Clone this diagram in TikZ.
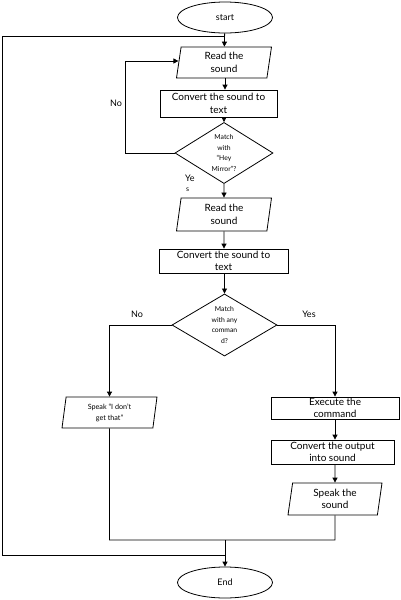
\documentclass[tikz,border=0pt]{standalone}
\usepackage{fontspec}
\setmainfont{Lato}
\usetikzlibrary{shapes.geometric,arrows.meta}
\begin{document}
\begin{tikzpicture}[x=1pt,y=-1pt,
  base/.style={draw=black,line width=0.8pt,inner sep=0pt,align=center},
  term/.style={base,ellipse,minimum width=95pt,minimum height=31pt,font=\fontsize{9}{11}\selectfont},
  io/.style={base,trapezium,trapezium left angle=77,trapezium right angle=103,trapezium stretches body,minimum width=#1pt},
  proc/.style={base,rectangle},
  dec/.style={base,diamond,font=\fontsize{6.8}{10.5}\selectfont},
  big/.style={font=\fontsize{10}{12.5}\selectfont},
  small/.style={font=\fontsize{7.2}{11}\selectfont},
  arr/.style={draw=black,line width=0.8pt,-{Triangle[length=5pt,width=5pt]}},
  ln/.style={draw=black,line width=0.8pt},
  lbl/.style={font=\fontsize{9}{11}\selectfont,inner sep=0pt}]
\useasboundingbox (0,0) rectangle (400,600);
\fill[white] (0,0) rectangle (400,600);
\node[term] (start) at (225,17.5) {start};
\node[io=95, minimum height=31pt, big] (read1) at (224,62.5) {Read the\\sound};
\node[proc, minimum width=117pt, minimum height=27pt, big] (conv1) at (218.5,103.5) {Convert the sound to\\text};
\node[dec, minimum width=98pt, minimum height=55pt] (dec1) at (224,153) {Match\\with\\“Hey\\Mirror”?};
\node[io=95, minimum height=33pt, big] (read2) at (224,214.5) {Read the\\sound};
\node[proc, minimum width=129pt, minimum height=24pt, big] (conv2) at (223.5,261) {Convert the sound to\\text};
\node[dec, minimum width=105pt, minimum height=62pt] (dec2) at (224.5,325) {Match\\with any\\comman\\d?};
\node[io=95, minimum height=31pt, small] (spk1) at (109.5,412.5) {Speak “I don’t\\get that”};
\node[proc, minimum width=128pt, minimum height=22pt, big] (exec) at (335,408) {Execute the\\command};
\node[proc, minimum width=123pt, minimum height=24pt, big] (conv3) at (332.5,452) {Convert the output\\into sound};
\node[io=94, minimum height=32pt, big] (spk2) at (335,499) {Speak the\\sound};
\node[term] (end) at (225,582.5) {End};
\coordinate (top) at (225,36);
\coordinate (merge) at (225,540);
\coordinate (bot) at (225,555);
% main flow
\draw[arr] (start) -- (read1);
\draw[arr] (read1.south -| 225,0) -- (conv1.north -| 225,0);
\draw[arr] (conv1.south -| 224,0) -- (dec1.north);
\draw[arr] (dec1.west) -- (125,153) -- (125,61) -- (read1.west |- 0,61);
\draw[arr] (dec1.south) -- (read2.north);
\draw[arr] (read2.south) -- (conv2.north -| 224,0);
\draw[arr] (conv2.south -| 224.5,0) -- (dec2.north);
\draw[arr] (dec2.west) -| (spk1.north);
\draw[arr] (dec2.east) -| (exec.north);
\draw[arr] (exec.south) -- (conv3.north -| 335,0);
\draw[arr] (conv3.south -| 335,0) -- (spk2.north);
\draw[ln] (spk1.south) -- (109.5,540) -- (spk2.south |- merge) -- (spk2.south);
\draw[arr] (merge) -- (end.north);
\draw[ln] (bot) -- (2,555) -- (2,36) -- (top);
% labels
\node[lbl] at (116,103) {No};
\node[lbl, anchor=west] at (185,178) {Ye};
\node[lbl, anchor=west, font=\fontsize{7}{9}\selectfont] at (186,190) {s};
\node[lbl] at (137,314) {No};
\node[lbl] at (309,314) {Yes};
\end{tikzpicture}
\end{document}
